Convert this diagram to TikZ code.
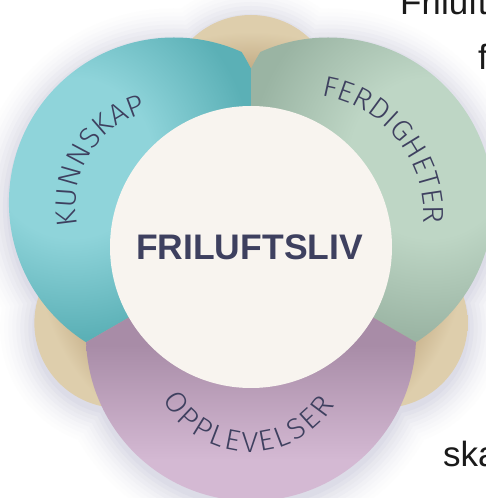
\documentclass[tikz,border=0pt]{standalone}
\usepackage{fontspec}
\setmainfont{Liberation Sans}
\newfontfamily\labfont[FakeStretch=1.05]{Fira Sans Light}
\usetikzlibrary{decorations.text}
\definecolor{tealL}{HTML}{8FD4DA}
\definecolor{tealD}{HTML}{5BB0B6}
\definecolor{greenL}{HTML}{BED6C5}
\definecolor{greenD}{HTML}{9AB4A3}
\definecolor{purpL}{HTML}{D4B9D3}
\definecolor{purpD}{HTML}{A88CA7}
\definecolor{tanL}{HTML}{DECEAC}
\definecolor{tanD}{HTML}{C6B08A}
\definecolor{coreC}{HTML}{F8F4EF}
\definecolor{inkC}{HTML}{3E405F}
\definecolor{shadowC}{HTML}{BCBCD0}
\definecolor{pageInk}{HTML}{1A1A1A}
% note: radius of the shaded circle corresponds to 25bp
\pgfdeclareradialshading{tealrad}{\pgfpoint{0bp}{0bp}}{color(0bp)=(tealL); color(10bp)=(tealL); color(22.5bp)=(tealD); color(50bp)=(tealD)}
\pgfdeclareradialshading{greenrad}{\pgfpoint{0bp}{0bp}}{color(0bp)=(greenL); color(10bp)=(greenL); color(22.5bp)=(greenD); color(50bp)=(greenD)}
\pgfdeclareradialshading{tanrad}{\pgfpoint{0bp}{0bp}}{color(0bp)=(tanD); color(17.5bp)=(tanD); color(20.7bp)=(tanL); color(50bp)=(tanL)}
\newcommand\labtext{\labfont\fontsize{29pt}{29pt}\selectfont\color{inkC}}
\begin{document}
\begin{tikzpicture}[x=1pt,y=1pt,
  labelarc/.style={decorate, decoration={text along path, text align={fit to path}, text={|\labtext|#1}}},
  pagetext/.style={anchor=base west, inner sep=0pt, text=pageInk, font=\fontsize{35pt}{36pt}\selectfont}]
\path[use as bounding box] (0,0) rectangle (486,498);
\begin{scope}
\clip (0,0) rectangle (486,498);
\fill[white] (0,0) rectangle (486,498);
% geometry
\coordinate (O) at (251,251);
\coordinate (tealC) at ([shift={(150:89)}]O);
\coordinate (greenC) at ([shift={(30:89)}]O);
\coordinate (purpC) at ([shift={(270:89)}]O);
\coordinate (tanT) at ([shift={(90:147)}]O);
\coordinate (tanLf) at ([shift={(210:152)}]O);
\coordinate (tanRt) at ([shift={(330:152)}]O);
\coordinate (w30) at ([shift={(30:420)}]O);
\coordinate (w90) at ([shift={(90:420)}]O);
\coordinate (w150) at ([shift={(150:420)}]O);
\coordinate (w210) at ([shift={(210:420)}]O);
\coordinate (w270) at ([shift={(270:420)}]O);
\coordinate (w330) at ([shift={(330:420)}]O);
\coordinate (kC) at (172,293);
\coordinate (fC) at (302,282);
\coordinate (oC) at (250,145);
% soft glow
\foreach \k/\p in {34/3,30/6,26/10,22/15,18/21,14/28,10/35,6/43,2/52}{
  \fill[shadowC!\p!white]
    ([yshift=-5pt]tealC) circle[radius=165+\k]
    ([yshift=-5pt]greenC) circle[radius=165+\k]
    ([yshift=-5pt]purpC) circle[radius=165+\k]
    ([yshift=-5pt]tanT) circle[radius=85+\k]
    ([yshift=-5pt]tanLf) circle[radius=85+\k]
    ([yshift=-5pt]tanRt) circle[radius=85+\k];
}
% tan circles
\begin{scope}
\clip (tanT) circle[radius=85] (tanLf) circle[radius=85] (tanRt) circle[radius=85];
\shade[shading=tanrad] (O) circle[radius=260];
\end{scope}
% teal sector
\begin{scope}
\clip (O) -- (w90) -- (w150) -- (w210) -- cycle;
\clip (tealC) circle[radius=165];
\shade[shading=tealrad] (72,340) circle[radius=200];
\end{scope}
% green sector
\begin{scope}
\clip (O) -- (w330) -- (w30) -- (w90) -- cycle;
\clip (greenC) circle[radius=165];
\shade[shading=greenrad] (430,340) circle[radius=200];
\end{scope}
% purple sector
\begin{scope}
\clip (O) -- (w210) -- (w270) -- (w330) -- cycle;
\clip (purpC) circle[radius=165];
\fill[purpD] (0,153) rectangle (486,498);
\shade[bottom color=purpL, top color=purpD] (0,38) rectangle (486,153);
\fill[purpL] (0,-10) rectangle (486,38);
\end{scope}
% centre
\fill[coreC] (O) circle[radius=141];
\node[font=\bfseries\fontsize{35.5pt}{36pt}\selectfont, text=inkC] (core) at (249.5,250.5) {FRILUFTSLIV};
% curved labels
\path[labelarc=KUNNSKAP] ([shift={(192:96)}]kC) arc[start angle=192, end angle=107, radius=96];
\path[labelarc=FERDIGHETER] ([shift={(81:122)}]fC) arc[start angle=81, end angle=-3.5, radius=122];
\path[labelarc=OPPLEVELSER] ([shift={(208:99)}]oC) arc[start angle=208, end angle=328.5, radius=99];
% surrounding page text fragments
\node[pagetext] (pg1) at (400,483) {Friluft};
\node[pagetext] (pg2) at (478,428) {f};
\node[pagetext] (pg3) at (443,31) {ska};
\end{scope}
\end{tikzpicture}
\end{document}
